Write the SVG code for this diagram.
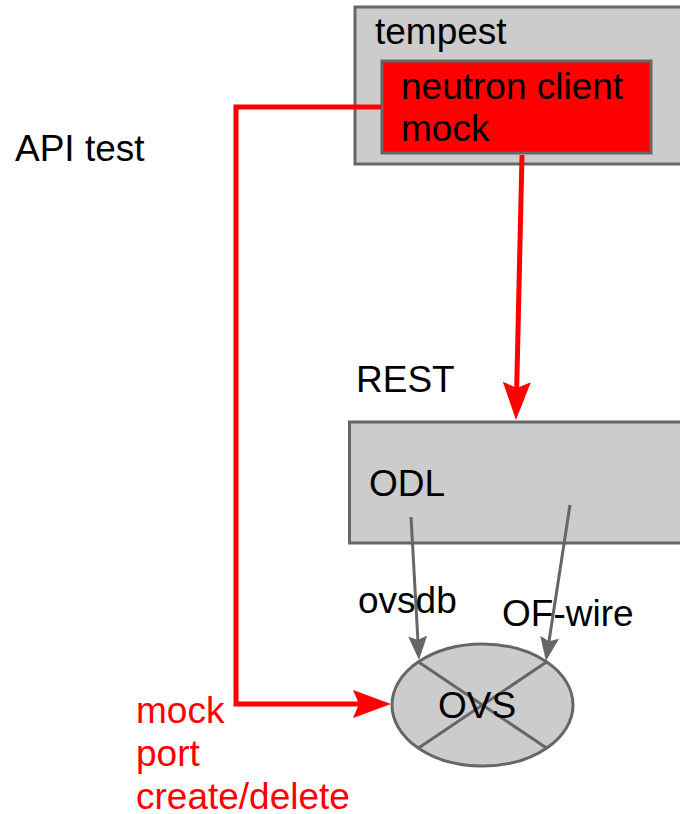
<svg xmlns="http://www.w3.org/2000/svg" width="680" height="814" viewBox="0 0 680 814">
<style>
.box{fill:#cccccc;stroke:#666666;stroke-width:3}
.red{fill:#ff0000;stroke:#666666;stroke-width:3}
.t{font-family:"Liberation Sans",Arial,sans-serif;font-size:37px;fill:#000000}
.tr{font-family:"Liberation Sans",Arial,sans-serif;font-size:37px;fill:#ff0000}
.rl{fill:none;stroke:#ff0000;stroke-width:5}
.gl{fill:none;stroke:#666666;stroke-width:3}
</style>
<defs>
<marker id="ra" markerUnits="userSpaceOnUse" viewBox="0 0 38 28" refX="6" refY="14" markerWidth="38" markerHeight="28" orient="auto">
<path d="M0,0 L38,14 L0,28 L6,14 Z" fill="#ff0000"/>
</marker>
<marker id="ga" markerUnits="userSpaceOnUse" viewBox="0 0 24 19" refX="4" refY="9.5" markerWidth="24" markerHeight="19" orient="auto">
<path d="M0,0 L24,9.5 L0,19 L4,9.5 Z" fill="#666666"/>
</marker>
</defs>
<text class="t" x="15" y="161">API test</text>
<g id="tempest">
<rect class="box" x="355" y="7" width="340" height="157"/>
<text class="t" x="375" y="44">tempest</text>
</g>
<g id="neutron">
<rect class="red" x="382" y="61" width="269" height="92"/>
<text class="t" x="401" y="99">neutron client</text>
<text class="t" x="401" y="141">mock</text>
</g>
<g id="odl">
<text class="t" x="356" y="392">REST</text>
<rect class="box" x="349.5" y="422" width="345" height="121"/>
<text class="t" x="369" y="496">ODL</text>
</g>
<g id="ovs">
<ellipse class="box" cx="482.5" cy="705" rx="90.5" ry="61"/>
<line class="gl" x1="418.5" y1="661.9" x2="546.5" y2="748.1"/>
<line class="gl" x1="546.5" y1="661.9" x2="418.5" y2="748.1"/>
<text class="t" x="438" y="718">OVS</text>
</g>
<g id="connectors">
<path class="rl" d="M522,155 L516.7,388" marker-end="url(#ra)"/>
<path class="rl" d="M381,107 H236 V704 H359" marker-end="url(#ra)"/>
<path class="gl" d="M411,517 L417.9,640" marker-end="url(#ga)"/>
<path class="gl" d="M570,505 L549,641.2" marker-end="url(#ga)"/>
<text class="t" x="358" y="613">ovsdb</text>
<text class="t" x="502" y="626">OF-wire</text>
<text class="tr" x="136" y="723">mock</text>
<text class="tr" x="136" y="766">port</text>
<text class="tr" x="136" y="809">create/delete</text>
</g>
</svg>
